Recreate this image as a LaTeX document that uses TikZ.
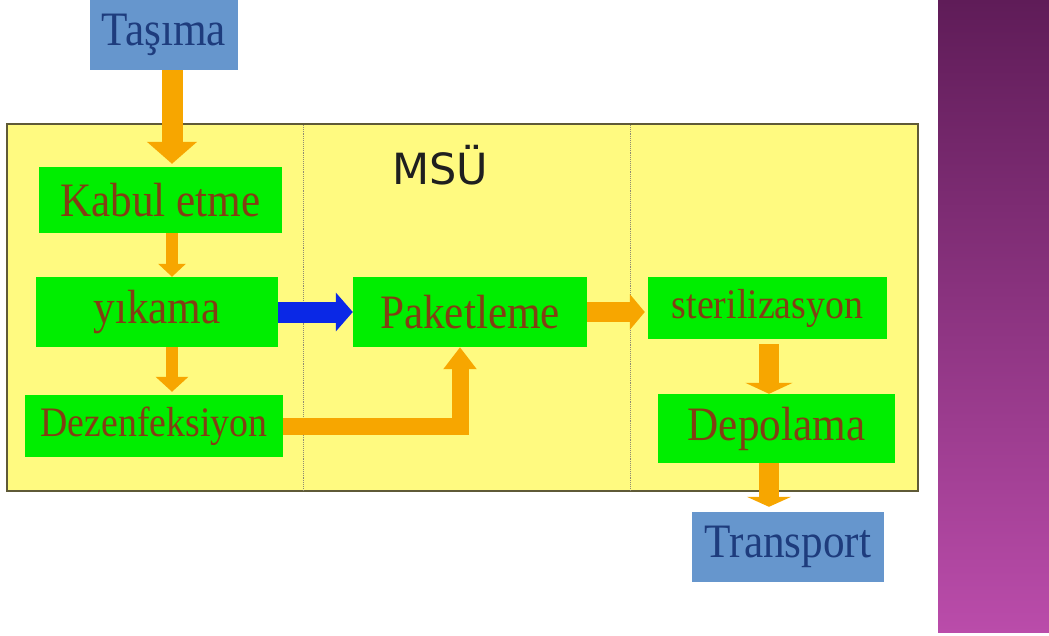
\documentclass[tikz,border=0pt]{standalone}
\usepackage{fontspec}
\setmainfont{Liberation Serif}[FakeStretch=0.9]
\newfontfamily\msufont{DejaVu Sans}
\usetikzlibrary{arrows.meta}

\definecolor{stagegreen}{RGB}{0,238,0}
\definecolor{stagetext}{RGB}{130,62,20}
\definecolor{transitblue}{RGB}{102,150,205}
\definecolor{transittext}{RGB}{30,60,125}
\definecolor{unityellow}{RGB}{255,250,128}
\definecolor{unitedge}{RGB}{95,90,55}
\definecolor{pipeorange}{RGB}{247,166,0}
\definecolor{pipeblue}{RGB}{10,40,230}
\definecolor{barTop}{RGB}{95,28,88}
\definecolor{barMid}{RGB}{142,56,132}
\definecolor{barBot}{RGB}{186,76,170}

\tikzset{
  stage/.style={fill=stagegreen, text=stagetext, inner sep=0pt,
    font=\fontsize{48}{54}\selectfont},
  transit/.style={fill=transitblue, text=transittext, inner sep=0pt,
    font=\fontsize{48}{54}\selectfont},
  pipe/.style n args={3}{draw=pipeorange, line width=#1,
    -{Triangle[width=#2,length=#3]}},
}

\begin{document}
\begin{tikzpicture}[x=1pt,y=-1pt]
\useasboundingbox (0,0) rectangle (1049,636);
% background
\shade[top color=barTop, middle color=barMid, bottom color=barBot] (938,0) rectangle (1049,632);
\draw[fill=unityellow, draw=unitedge, line width=1.5pt] (7,124) rectangle (918,491);
\draw[unitedge!70, densely dotted, line width=0.9pt] (303,125) -- (303,490);
\draw[unitedge!70, densely dotted, line width=0.9pt] (630,125) -- (630,490);
% nodes
\node[font=\msufont\fontsize{43}{48}\selectfont, text=black!88] (msu) at (440,165) {MSÜ};
\node[transit, minimum width=148pt, minimum height=70pt] (tasima) at (164,35) {Taşıma};
\node[stage, minimum width=243pt, minimum height=66pt] (kabul) at (160.5,200) {Kabul etme};
\node[stage, minimum width=242pt, minimum height=70pt] (yikama) at (157,312) {yıkama};
\node[stage, minimum width=258pt, minimum height=62pt,
  font=\fontsize{42}{48}\selectfont] (dezenf) at (154,426) {Dezenfeksiyon};
\node[stage, minimum width=234pt, minimum height=70pt] (paket) at (470,312) {Paketleme};
\node[stage, minimum width=239pt, minimum height=62pt,
  font=\fontsize{42}{48}\selectfont] (steril) at (767.5,308) {sterilizasyon};
\node[stage, minimum width=237pt, minimum height=69pt] (depol) at (776.5,428.5) {Depolama};
\node[transit, minimum width=192pt, minimum height=70pt] (transport) at (788,547) {Transport};
% arrows
\coordinate (colA) at (172,0);
\coordinate (colC) at (769,0);
\draw[pipe={21pt}{49pt}{22pt}, shorten >=3pt] (tasima.south -| colA) -- (kabul.north -| colA);
\draw[pipe={12pt}{27pt}{13pt}] (kabul.south -| colA) -- (yikama.north -| colA);
\draw[pipe={12pt}{32pt}{15pt}, shorten >=3pt] (yikama.south -| colA) -- (dezenf.north -| colA);
\draw[pipe={21pt}{38pt}{17pt}, draw=pipeblue] (yikama.east) -- (paket.west);
\draw[pipe={20pt}{35pt}{15pt}, shorten >=3pt] (paket.east) -- (paket.east -| steril.west);
\draw[pipe={17pt}{32pt}{22pt}, line join=miter] (dezenf.east) -| ([xshift=-10pt]paket.south);
\draw[pipe={20pt}{47pt}{11pt}, shorten <=5pt] (steril.south -| colC) -- (depol.north -| colC);
\draw[pipe={20pt}{44pt}{10pt}, shorten >=5pt] (depol.south -| colC) -- (transport.north -| colC);
\end{tikzpicture}
\end{document}
